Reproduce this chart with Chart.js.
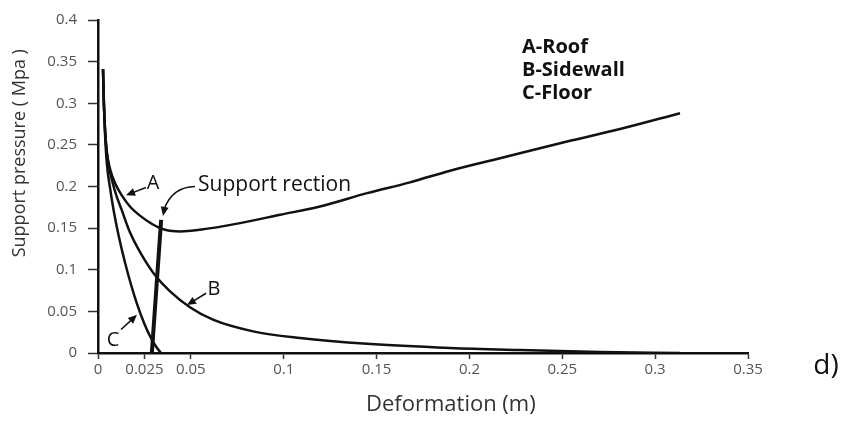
<!DOCTYPE html>
<html>
<head>
<meta charset="utf-8">
<script src="https://cdn.jsdelivr.net/npm/chart.js@4.4.1/dist/chart.umd.min.js"></script>
<style>
    html, body { margin: 0; padding: 0; background: #fff; }
    #wrap { width: 846px; height: 427px; }
</style>
</head>
<body>
<div id="wrap"><canvas id="curveChart" width="846" height="427"></canvas></div>
<script>
// Ground reaction curves (deformation m / pressure MPa)
const roofX = [0.0027, 0.0032, 0.0038, 0.0048, 0.0065, 0.0092, 0.0129, 0.0172, 0.0226, 0.0291, 0.0361, 0.0442, 0.0549, 0.0765, 0.098, 0.1195, 0.1449, 0.168, 0.1896, 0.2165, 0.2488, 0.2811, 0.3134];
const roofY = [0.341, 0.298, 0.268, 0.241, 0.221, 0.204, 0.189, 0.176, 0.165, 0.155, 0.148, 0.146, 0.148, 0.156, 0.166, 0.176, 0.192, 0.205, 0.219, 0.234, 0.252, 0.269, 0.288];

const sidewallX = [0.0027, 0.0032, 0.0043, 0.0059, 0.0092, 0.0129, 0.0172, 0.0232, 0.0302, 0.0388, 0.0495, 0.0619, 0.0835, 0.1088, 0.1449, 0.1896, 0.2272, 0.2703, 0.3134];
const sidewallY = [0.341, 0.298, 0.251, 0.224, 0.194, 0.171, 0.145, 0.119, 0.095, 0.074, 0.055, 0.040, 0.026, 0.018, 0.011, 0.006, 0.0035, 0.0012, 0.0];

const floorX = [0.0027, 0.0032, 0.0038, 0.0048, 0.0065, 0.0086, 0.0113, 0.0145, 0.0178, 0.021, 0.0248, 0.0285, 0.0318, 0.0339];
const floorY = [0.341, 0.298, 0.262, 0.227, 0.198, 0.169, 0.139, 0.109, 0.082, 0.059, 0.036, 0.018, 0.006, 0.0];

const supportX = [0.029, 0.034];
const supportY = [0.0, 0.16];

const xTickValues = [0, 0.025, 0.05, 0.1, 0.15, 0.2, 0.25, 0.3, 0.35];
const xTickLabels = ['0', '0.025', '0.05', '0.1', '0.15', '0.2', '0.25', '0.3', '0.35'];
const yTickValues = [0, 0.05, 0.1, 0.15, 0.2, 0.25, 0.3, 0.35, 0.4];
const yTickLabels = ['0', '0.05', '0.1', '0.15', '0.2', '0.25', '0.3', '0.35', '0.4'];

const legendLines = ['A-Roof', 'B-Sidewall', 'C-Floor'];

function toPoints(xs, ys) {
    return xs.map((v, i) => ({ x: v, y: ys[i] }));
}

function curve(data, width) {
    return {
        data: data,
        borderColor: '#111',
        borderWidth: width,
        pointRadius: 0,
        fill: false,
        cubicInterpolationMode: 'monotone'
    };
}

function arrow(ctx, x1, y1, x2, y2) {
    const ang = Math.atan2(y2 - y1, x2 - x1);
    ctx.beginPath();
    ctx.moveTo(x1, y1);
    ctx.lineTo(x2 - 6 * Math.cos(ang), y2 - 6 * Math.sin(ang));
    ctx.stroke();
    ctx.beginPath();
    ctx.moveTo(x2, y2);
    ctx.lineTo(x2 - 9 * Math.cos(ang) + 4 * Math.sin(ang), y2 - 9 * Math.sin(ang) - 4 * Math.cos(ang));
    ctx.lineTo(x2 - 9 * Math.cos(ang) - 4 * Math.sin(ang), y2 - 9 * Math.sin(ang) + 4 * Math.cos(ang));
    ctx.closePath();
    ctx.fill();
}

// labels, arrows and axis titles
const notes = {
    id: 'notes',
    afterDraw(chart) {
        const ctx = chart.ctx;
        const x = chart.scales.x;
        const y = chart.scales.y;
        const px = v => x.getPixelForValue(v);
        const py = v => y.getPixelForValue(v);

        ctx.save();
        ctx.fillStyle = '#111';
        ctx.strokeStyle = '#111';
        ctx.lineWidth = 1.6;
        ctx.textBaseline = 'middle';

        ctx.font = '20px "Open Sans"';
        ctx.textAlign = 'center';
        ctx.fillText('A', px(0.0296), py(0.2035));
        arrow(ctx, px(0.0258), py(0.1988), px(0.0151), py(0.1894));
        ctx.fillText('B', px(0.0625), py(0.0765));
        arrow(ctx, px(0.0582), py(0.0718), px(0.0479), py(0.0576));
        ctx.fillText('C', px(0.0081), py(0.0153));
        arrow(ctx, px(0.0124), py(0.0282), px(0.021), py(0.0459));

        ctx.textAlign = 'left';
        ctx.font = '21px "Open Sans"';
        ctx.fillText('Support rection', px(0.0539), py(0.2012));
        // curved arrow into the support line
        ctx.beginPath();
        ctx.moveTo(px(0.0522), py(0.2));
        ctx.quadraticCurveTo(px(0.0398), py(0.1995), px(0.0355), py(0.172));
        ctx.stroke();
        arrow(ctx, px(0.0358), py(0.174), px(0.035), py(0.1647));

        ctx.font = 'bold 20px "Open Sans"';
        legendLines.forEach((t, i) => {
            ctx.fillText(t, px(0.2283), py(0.3647) - 2 + i * 23);
        });

        ctx.fillStyle = '#333';
        ctx.textAlign = 'center';
        ctx.font = '22px "Open Sans"';
        ctx.fillText('Deformation (m)', px(0.19), chart.chartArea.bottom + 52);

        ctx.save();
        ctx.translate(20, py(0.24));
        ctx.rotate(-Math.PI / 2);
        ctx.font = '18px "Open Sans"';
        ctx.fillText('Support pressure ( Mpa )', 0, 0);
        ctx.restore();

        ctx.fillStyle = '#111';
        ctx.font = '28px "Open Sans"';
        ctx.fillText('d)', 826, 366);
        ctx.restore();
    }
};

const config = {
    type: 'line',
    data: {
        datasets: [
            curve(toPoints(roofX, roofY), 2.5),
            curve(toPoints(sidewallX, sidewallY), 2.5),
            curve(toPoints(floorX, floorY), 2.5),
            curve(toPoints(supportX, supportY), 4)
        ]
    },
    options: {
        responsive: false,
        animation: false,
        devicePixelRatio: 1,
        layout: { padding: { top: 13, right: 98, left: 0, bottom: 0 } },
        plugins: {
            legend: { display: false },
            tooltip: { enabled: false }
        },
        scales: {
            x: {
                type: 'linear',
                min: 0,
                max: 0.35,
                afterBuildTicks: s => { s.ticks = xTickValues.map(v => ({ value: v })); },
                afterFit: s => { s.height = 74; },
                ticks: {
                    autoSkip: false,
                    maxRotation: 0,
                    padding: 2,
                    color: '#555',
                    font: { family: 'Open Sans', size: 15 },
                    callback: (v, i) => xTickLabels[i]
                },
                grid: { drawOnChartArea: false, tickLength: 6, color: '#333', tickWidth: 1.5 },
                border: { color: '#111', width: 2.5 }
            },
            y: {
                min: 0,
                max: 0.4,
                afterBuildTicks: s => { s.ticks = yTickValues.map(v => ({ value: v })); },
                afterFit: s => { s.width = 98; },
                ticks: {
                    padding: 11,
                    color: '#555',
                    font: { family: 'Open Sans', size: 15 },
                    callback: (v, i) => yTickLabels[i]
                },
                grid: { drawOnChartArea: false, tickLength: 10, color: '#333', tickWidth: 1.5 },
                border: { color: '#111', width: 2.5 }
            }
        }
    },
    plugins: [notes]
};

window.onload = function() {
    const ctx = document.getElementById('curveChart').getContext('2d');
    window.curveChart = new Chart(ctx, config);
};
</script>
</body>
</html>
